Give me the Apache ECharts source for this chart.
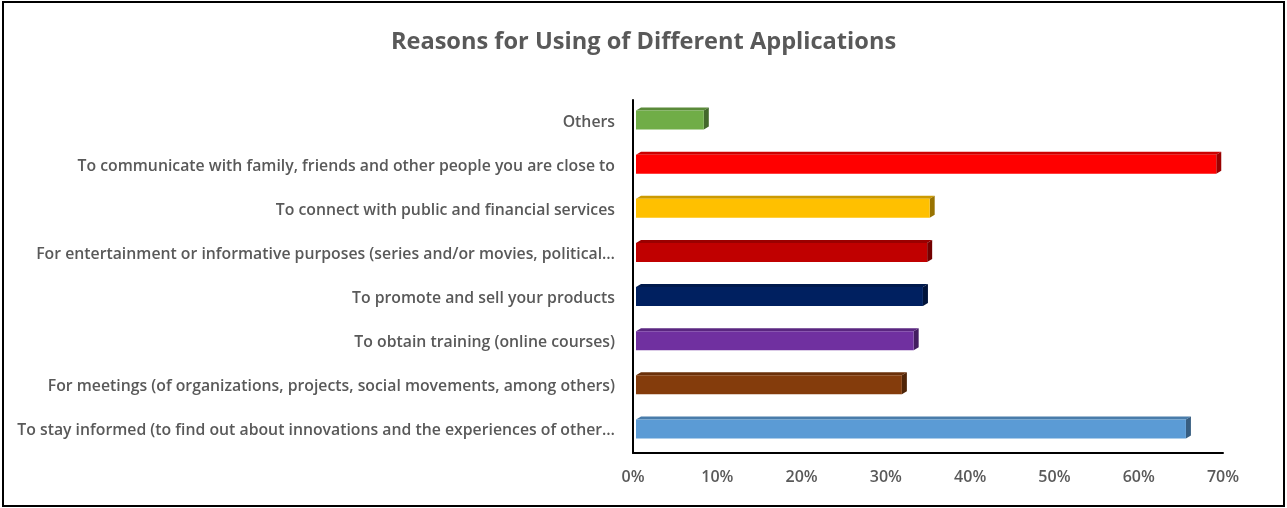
<!DOCTYPE html>
<html><head><meta charset="utf-8">
<script src="https://cdn.jsdelivr.net/npm/echarts@6/dist/echarts.min.js"></script>
<style>html,body{margin:0;padding:0;background:#fff}#c{width:1287px;height:508px}</style>
</head><body><div id="c"></div>
<script>
const categories = [
  "To stay informed (to find out about innovations and the experiences of other…",
  "For meetings (of organizations, projects, social movements, among others)",
  "To obtain training (online courses)",
  "To promote and sell your products",
  "For entertainment or informative purposes (series and/or movies, political…",
  "To connect with public and financial services",
  "To communicate with family, friends and other people you are close to",
  "Others"
];
const values = [65.6, 31.9, 33.3, 34.4, 34.9, 35.2, 69.2, 8.4];
const colors = ["#5B9BD5","#843C0C","#7030A0","#002060","#C00000","#FFC000","#FF0000","#70AD47"];
const xTicks = [0,10,20,30,40,50,60,70];

function shade(hex, f){
  const n=parseInt(hex.slice(1),16);
  let r=(n>>16)&255,g=(n>>8)&255,b=n&255;
  r=Math.round(r*f);g=Math.round(g*f);b=Math.round(b*f);
  return 'rgb('+r+','+g+','+b+')';
}

const chart = echarts.init(document.getElementById('c'));
chart.setOption({
  animation:false,
  title:{text:'Reasons for Using of Different Applications',left:'center',top:25,
    textStyle:{fontFamily:'Open Sans',fontWeight:700,fontSize:23.6,color:'#595959'}},
  grid:{left:633,right:64,top:100,bottom:55,containLabel:false},
  xAxis:{type:'value',min:0,max:70,interval:10,
    axisLine:{show:true,lineStyle:{color:'#000',width:2}},
    axisTick:{show:false},splitLine:{show:false},
    axisLabel:{formatter:v=>v+'%',color:'#595959',fontFamily:'Open Sans',fontWeight:600,fontSize:16,margin:16}},
  yAxis:{type:'category',data:categories,
    axisLine:{show:true,lineStyle:{color:'#000',width:2}},
    axisTick:{show:false},
    axisLabel:{color:'#595959',fontFamily:'Open Sans',fontWeight:600,fontSize:15.8,margin:18}},
  graphic:[
    {type:'rect',shape:{x:3,y:2,width:1281,height:504},style:{fill:'none',stroke:'#000',lineWidth:2},silent:true}
  ],
  series:[{
    type:'custom',
    data:values.map((v,i)=>[v,i]),
    renderItem:function(params,api){
      const v=api.value(0), i=api.value(1);
      const p0=api.coord([0,i]), p1=api.coord([v,i]);
      const h=19, dx=5, dy=3;
      const x0=p0[0]+3, x1=p1[0], yc=p0[1]-2;
      const yT=yc-h/2, yB=yc+h/2;
      const c=colors[params.dataIndex];
      return {type:'group',children:[
        {type:'polygon',shape:{points:[[x0,yT],[x0+dx,yT-dy],[x1+dx,yT-dy],[x1,yT]]},style:{fill:shade(c,0.8)}},
        {type:'polygon',shape:{points:[[x1,yT],[x1+dx,yT-dy],[x1+dx,yB-dy],[x1,yB]]},style:{fill:shade(c,0.6)}},
        {type:'rect',shape:{x:x0,y:yT,width:x1-x0,height:h},style:{fill:c}}
      ]};
    }
  }]
});
</script></body></html>
